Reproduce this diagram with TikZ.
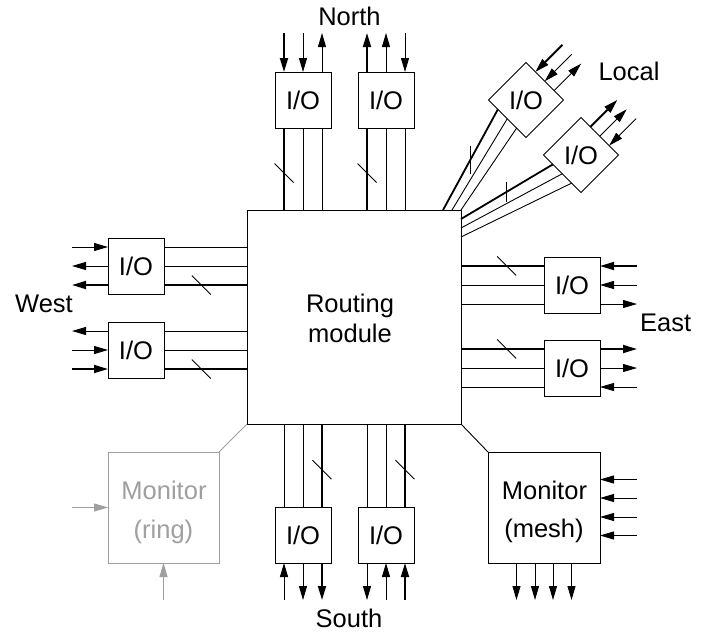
\documentclass[tikz,border=0pt]{standalone}
\usepackage{fontspec}
\setmainfont{Liberation Sans}
\usetikzlibrary{arrows.meta,calc,shapes.geometric}
\definecolor{ringgray}{RGB}{160,158,158}
\newcommand\bigtxt{\fontsize{25.5}{30}\selectfont}
\begin{document}
\begin{tikzpicture}[x=1pt,y=-1pt,
  >={Triangle[length=14pt,width=8pt]},
  wire/.style={line width=0.9pt},
  bus/.style={line width=1.8pt},
  arrin/.style={<-},
  arrout/.style={->},
  txt/.style={font=\bigtxt,inner sep=0pt},
  iobox/.style={draw,line width=0.9pt,minimum size=56pt,inner sep=0pt,outer sep=0pt,font=\bigtxt},
  iodia/.style={diamond,aspect=1,draw,line width=0.9pt,minimum width=75pt,minimum height=75pt,inner sep=0pt,outer sep=0pt,font=\bigtxt},
  monbox/.style={draw,line width=0.9pt,minimum width=112pt,minimum height=111pt,inner sep=0pt,outer sep=0pt}]
\useasboundingbox (0,0) rectangle (710,635);

% routing module
\node[draw,line width=0.9pt,minimum size=214pt,inner sep=0pt,outer sep=0pt] (rm) at (354,317) {};
\node[txt,anchor=base] (trm1) at (350,312) {Routing};
\node[txt,anchor=base] (trm2) at (350,342) {module};

% I/O boxes
\node[iobox] (n1) at (303,100) {I/O};
\node[iobox] (n2) at (386,100) {I/O};
\node[iobox] (s1) at (303,535) {I/O};
\node[iobox] (s2) at (386,535) {I/O};
\node[iobox] (w1) at (136,266) {I/O};
\node[iobox] (w2) at (136,350) {I/O};
\node[iobox] (e1) at (572,285) {I/O};
\node[iobox] (e2) at (572,368) {I/O};
\node[iodia] (l1) at (526,100) {I/O};
\node[iodia] (l2) at (581,155) {I/O};

% North
\foreach \bb/\ta/\tb/\tc in {n1/arrin/arrin/arrout, n2/arrout/arrout/arrin}{
  \foreach \kk/\o in {a/-19,b/0,c/19}{
    \path (\bb.north) ++(\o,0) coordinate (\bb\kk o) ++(0,-39) coordinate (\bb\kk e);
    \path (\bb.south) ++(\o,0) coordinate (\bb\kk i);
    \path (rm.north -| \bb\kk i) coordinate (\bb\kk r);
  }
  \draw[bus] (\bb ar) -- coordinate[pos=0.45] (\bb sl) (\bb ai);
  \draw[wire] (\bb br) -- (\bb bi);
  \draw[wire] (\bb cr) -- (\bb ci);
  \draw[bus,\ta] (\bb ao) -- (\bb ae);
  \draw[wire,\tb] (\bb bo) -- (\bb be);
  \draw[wire,\tc] (\bb co) -- (\bb ce);
  \draw[wire] (\bb sl) ++(-9.5,-9.5) -- ++(19,19);
}

% South
\foreach \bb/\ta/\tb/\tc in {s1/arrin/arrout/arrout, s2/arrout/arrin/arrin}{
  \foreach \kk/\o in {a/-19,b/0,c/19}{
    \path (\bb.south) ++(\o,0) coordinate (\bb\kk o) ++(0,37) coordinate (\bb\kk e);
    \path (\bb.north) ++(\o,0) coordinate (\bb\kk i);
    \path (rm.south -| \bb\kk i) coordinate (\bb\kk r);
  }
  \draw[wire] (\bb ar) -- (\bb ai);
  \draw[wire] (\bb br) -- (\bb bi);
  \draw[bus] (\bb cr) -- coordinate[pos=0.55] (\bb sl) (\bb ci);
  \draw[wire,\ta] (\bb ao) -- (\bb ae);
  \draw[wire,\tb] (\bb bo) -- (\bb be);
  \draw[bus,\tc] (\bb co) -- (\bb ce);
  \draw[wire] (\bb sl) ++(-9.5,-9.5) -- ++(19,19);
}

% West
\foreach \bb/\ta/\tb/\tc in {w1/arrin/arrout/arrout, w2/arrout/arrin/arrin}{
  \foreach \kk/\o in {a/-19,b/0,c/19}{
    \path (\bb.west) ++(0,\o) coordinate (\bb\kk o) ++(-36,0) coordinate (\bb\kk e);
    \path (\bb.east) ++(0,\o) coordinate (\bb\kk i);
    \path (rm.west |- \bb\kk i) coordinate (\bb\kk r);
  }
  \draw[wire] (\bb ar) -- (\bb ai);
  \draw[wire] (\bb br) -- (\bb bi);
  \draw[bus] (\bb cr) -- coordinate[pos=0.55] (\bb sl) (\bb ci);
  \draw[wire,\ta] (\bb ao) -- (\bb ae);
  \draw[wire,\tb] (\bb bo) -- (\bb be);
  \draw[bus,\tc] (\bb co) -- (\bb ce);
  \draw[wire] (\bb sl) ++(-9.5,-9.5) -- ++(19,19);
}

% East
\foreach \bb/\ta/\tb/\tc in {e1/arrin/arrin/arrout, e2/arrout/arrout/arrin}{
  \foreach \kk/\o in {a/-19,b/0,c/19}{
    \path (\bb.east) ++(0,\o) coordinate (\bb\kk o) ++(37,0) coordinate (\bb\kk e);
    \path (\bb.west) ++(0,\o) coordinate (\bb\kk i);
    \path (rm.east |- \bb\kk i) coordinate (\bb\kk r);
  }
  \draw[bus] (\bb ar) -- coordinate[pos=0.55] (\bb sl) (\bb ai);
  \draw[wire] (\bb br) -- (\bb bi);
  \draw[wire] (\bb cr) -- (\bb ci);
  \draw[bus,\ta] (\bb ao) -- (\bb ae);
  \draw[wire,\tb] (\bb bo) -- (\bb be);
  \draw[wire,\tc] (\bb co) -- (\bb ce);
  \draw[wire] (\bb sl) ++(-9.5,-9.5) -- ++(19,19);
}

% Local
\foreach \pp/\kk in {0.25/a,0.5/b,0.75/c}{
  \path ($(l1.west)!\pp!(l1.south)$) coordinate (l1\kk i);
  \path ($(l1.north)!\pp!(l1.east)$) coordinate (l1\kk o);
  \path (l1\kk o) ++(27,-27) coordinate (l1\kk e);
  \path ($(l2.west)!\pp!(l2.south)$) coordinate (l2\kk i);
  \path ($(l2.north)!\pp!(l2.east)$) coordinate (l2\kk o);
  \path (l2\kk o) ++(27,-27) coordinate (l2\kk e);
}
\path (rm.north east) ++(-18,0) coordinate (l1ar);
\path (rm.north east) ++(-9,0) coordinate (l1br);
\path (rm.north east) coordinate (l1cr);
\path (rm.north east) ++(0,9) coordinate (l2ar);
\path (rm.north east) ++(0,18) coordinate (l2br);
\path (rm.north east) ++(0,27) coordinate (l2cr);
\draw[bus] (l1ar) -- coordinate[pos=0.5] (l1sl) (l1ai);
\draw[wire] (l1br) -- (l1bi);
\draw[wire] (l1cr) -- (l1ci);
\draw[bus] (l2ar) -- coordinate[pos=0.5] (l2sl) (l2ai);
\draw[wire] (l2br) -- (l2bi);
\draw[wire] (l2cr) -- (l2ci);
\draw[wire] (l1sl) ++(0,-14) -- ++(0,28);
\draw[wire] (l2sl) ++(0,-10) -- ++(0,20);
\draw[bus,arrin] (l1ao) -- (l1ae);
\draw[wire,arrin] (l1bo) -- (l1be);
\draw[wire,arrout] (l1co) -- (l1ce);
\draw[bus,arrout] (l2ao) -- (l2ae);
\draw[wire,arrout] (l2bo) -- (l2be);
\draw[wire,arrin] (l2co) -- (l2ce);

% Monitors
\node[monbox] (monm) at (544,507.5) {};
\node[monbox,draw=ringgray,minimum width=111pt] (monr) at (163.5,507.5) {};
\node[txt,anchor=base] (tmm1) at (544.5,499) {Monitor};
\node[txt,anchor=base] (tmm2) at (544,537) {(mesh)};
\node[txt,anchor=base,text=ringgray] (tmr1) at (164,499) {Monitor};
\node[txt,anchor=base,text=ringgray] (tmr2) at (163.5,538) {(ring)};
\draw[wire] (rm.south east) -- (monm.north west);
\draw[wire,ringgray] (rm.south west) -- (monr.north east);
\foreach \o [count=\i] in {-28,-9.5,9.5,28}{
  \path (monm.east) ++(0,\o) coordinate (mi\i) ++(37,0) coordinate (mie\i);
  \draw[wire,arrin] (mi\i) -- (mie\i);
}
\foreach \o [count=\i] in {-27.5,-9,9,27.5}{
  \path (monm.south) ++(\o,0) coordinate (mo\i) ++(0,37) coordinate (moe\i);
  \draw[wire,arrout] (mo\i) -- (moe\i);
}
\path (monr.west) ++(-36,0) coordinate (rie);
\draw[wire,ringgray,arrin] (monr.west) -- (rie);
\path (monr.south) ++(0,37) coordinate (rse);
\draw[wire,ringgray,arrin] (monr.south) -- (rse);

% labels
\node[txt,anchor=base] (tnorth) at (349.5,25) {North};
\node[txt,anchor=base] (tsouth) at (349,627) {South};
\node[txt,anchor=base east] (twest) at (73,312) {West};
\node[txt,anchor=base west] (teast) at (640,331) {East};
\node[txt,anchor=base] (tlocal) at (629,80) {Local};
\end{tikzpicture}
\end{document}
